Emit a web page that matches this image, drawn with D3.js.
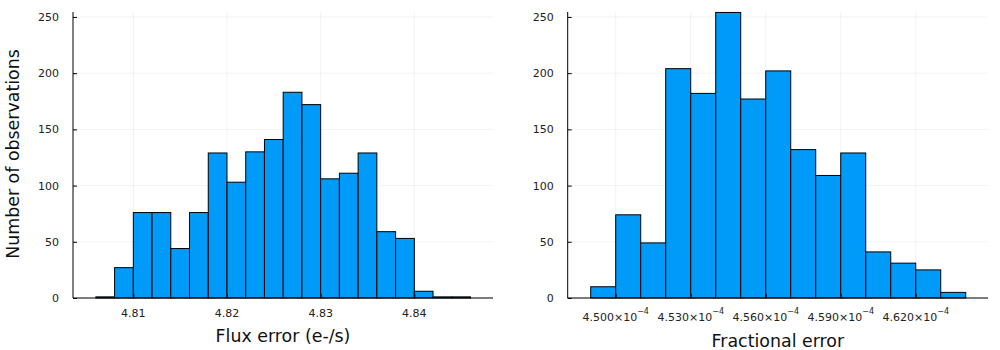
<!DOCTYPE html>
<html>
<head>
<meta charset="utf-8">
<script src="https://cdn.jsdelivr.net/npm/d3@7"></script>
<style>
  body { margin: 0; background: #fff; }
  svg { display: block; font-family: "DejaVu Sans", sans-serif; }
</style>
</head>
<body>
<svg id="chart" width="1000" height="350"></svg>
<script>
// flux error histogram (bin lower edges, width 0.002)
var fluxEdges = [4.806, 4.808, 4.810, 4.812, 4.814, 4.816, 4.818, 4.820, 4.822, 4.824,
                 4.826, 4.828, 4.830, 4.832, 4.834, 4.836, 4.838, 4.840, 4.842, 4.844];
var fluxCounts = [1, 27, 76, 76, 44, 76, 129, 103, 130, 141,
                  183, 172, 106, 111, 129, 59, 53, 6, 1, 1];
var fluxBinWidth = 0.002;
var fluxTicks = [4.81, 4.82, 4.83, 4.84];

// fractional error histogram (bin lower edges in units of 1e-4, width 0.01e-4)
var fracEdges = [4.49, 4.50, 4.51, 4.52, 4.53, 4.54, 4.55, 4.56, 4.57, 4.58,
                 4.59, 4.60, 4.61, 4.62, 4.63];
var fracCounts = [10, 74, 49, 204, 182, 254, 177, 202, 132, 109, 129, 41, 31, 25, 5];
var fracBinWidth = 0.01;
var fracTicks = [4.50, 4.53, 4.56, 4.59, 4.62];

var yTicks = [0, 50, 100, 150, 200, 250];

var svg = d3.select('#chart');
var plotTop = 12, plotBottom = 298;

function panel(opts) {
  var x = d3.scaleLinear().domain(opts.xDomain).range([opts.left, opts.right]);
  var y = d3.scaleLinear().domain([0, 254.4]).range([plotBottom, plotTop]);
  var g = svg.append('g');

  // grid
  g.append('g').selectAll('line').data(opts.ticks).enter().append('line')
      .attr('x1', function(d) { return x(d); }).attr('x2', function(d) { return x(d); })
      .attr('y1', plotTop).attr('y2', plotBottom)
      .attr('stroke', '#000').attr('stroke-opacity', 0.1).attr('stroke-width', 0.5);
  g.append('g').selectAll('line').data(yTicks).enter().append('line')
      .attr('x1', opts.left).attr('x2', opts.right)
      .attr('y1', function(d) { return y(d); }).attr('y2', function(d) { return y(d); })
      .attr('stroke', '#000').attr('stroke-opacity', 0.1).attr('stroke-width', 0.5);

  // bars
  g.append('g').selectAll('rect').data(opts.counts).enter().append('rect')
      .attr('x', function(d, i) { return x(opts.edges[i]); })
      .attr('width', function(d, i) { return x(opts.edges[i] + opts.binWidth) - x(opts.edges[i]); })
      .attr('y', function(d) { return y(d); })
      .attr('height', function(d) { return y(0) - y(d); })
      .attr('fill', '#009af9')
      .attr('stroke', '#000').attr('stroke-width', 1);

  // axes
  var yAxis = d3.axisLeft(y).tickValues(yTicks).tickSize(-4).tickPadding(14);
  var ya = g.append('g').attr('transform', 'translate(' + opts.left + ',0)').call(yAxis);
  ya.select('.domain').attr('d', 'M0,' + plotTop + 'V' + plotBottom).attr('stroke', '#000');
  ya.selectAll('text').attr('font-size', 11).attr('fill', '#222').attr('font-family', 'DejaVu Sans');

  var xAxis = d3.axisBottom(x).tickValues(opts.ticks).tickSize(-4).tickFormat('');
  var xa = g.append('g').attr('transform', 'translate(0,' + plotBottom + ')').call(xAxis);
  xa.select('.domain').attr('d', 'M' + opts.left + ',0H' + opts.right).attr('stroke', '#000');

  var lab = g.append('g').selectAll('text').data(opts.ticks).enter().append('text')
      .attr('x', function(d) { return x(d); })
      .attr('y', opts.labelY)
      .attr('text-anchor', 'middle')
      .attr('font-size', 11).attr('fill', '#222');
  opts.labelFn(lab);

  g.append('text')
      .attr('x', (opts.left + opts.right) / 2).attr('y', opts.titleY)
      .attr('text-anchor', 'middle').attr('font-size', 17.4).attr('fill', '#111')
      .text(opts.xLabel);
}

panel({
  left: 73, right: 493,
  xDomain: [4.80356, 4.8484],
  edges: fluxEdges, counts: fluxCounts, binWidth: fluxBinWidth,
  ticks: fluxTicks, labelY: 317, titleY: 342,
  labelFn: function(sel) { sel.text(function(d) { return d3.format('.2f')(d); }); },
  xLabel: 'Flux error (e-/s)'
});

panel({
  left: 567.7, right: 988,
  xDomain: [4.4808, 4.6489],
  edges: fracEdges, counts: fracCounts, binWidth: fracBinWidth,
  ticks: fracTicks, labelY: 321, titleY: 346.5,
  labelFn: function(sel) {
    sel.append('tspan').text(function(d) { return d3.format('.3f')(d) + '\u00d710'; });
    sel.append('tspan').attr('dy', -7).attr('font-size', 8).text('\u22124');
  },
  xLabel: 'Fractional error'
});

svg.append('text')
    .attr('transform', 'translate(19,154) rotate(-90)')
    .attr('text-anchor', 'middle').attr('font-size', 17.4).attr('fill', '#111')
    .text('Number of observations');
</script>
</body>
</html>
